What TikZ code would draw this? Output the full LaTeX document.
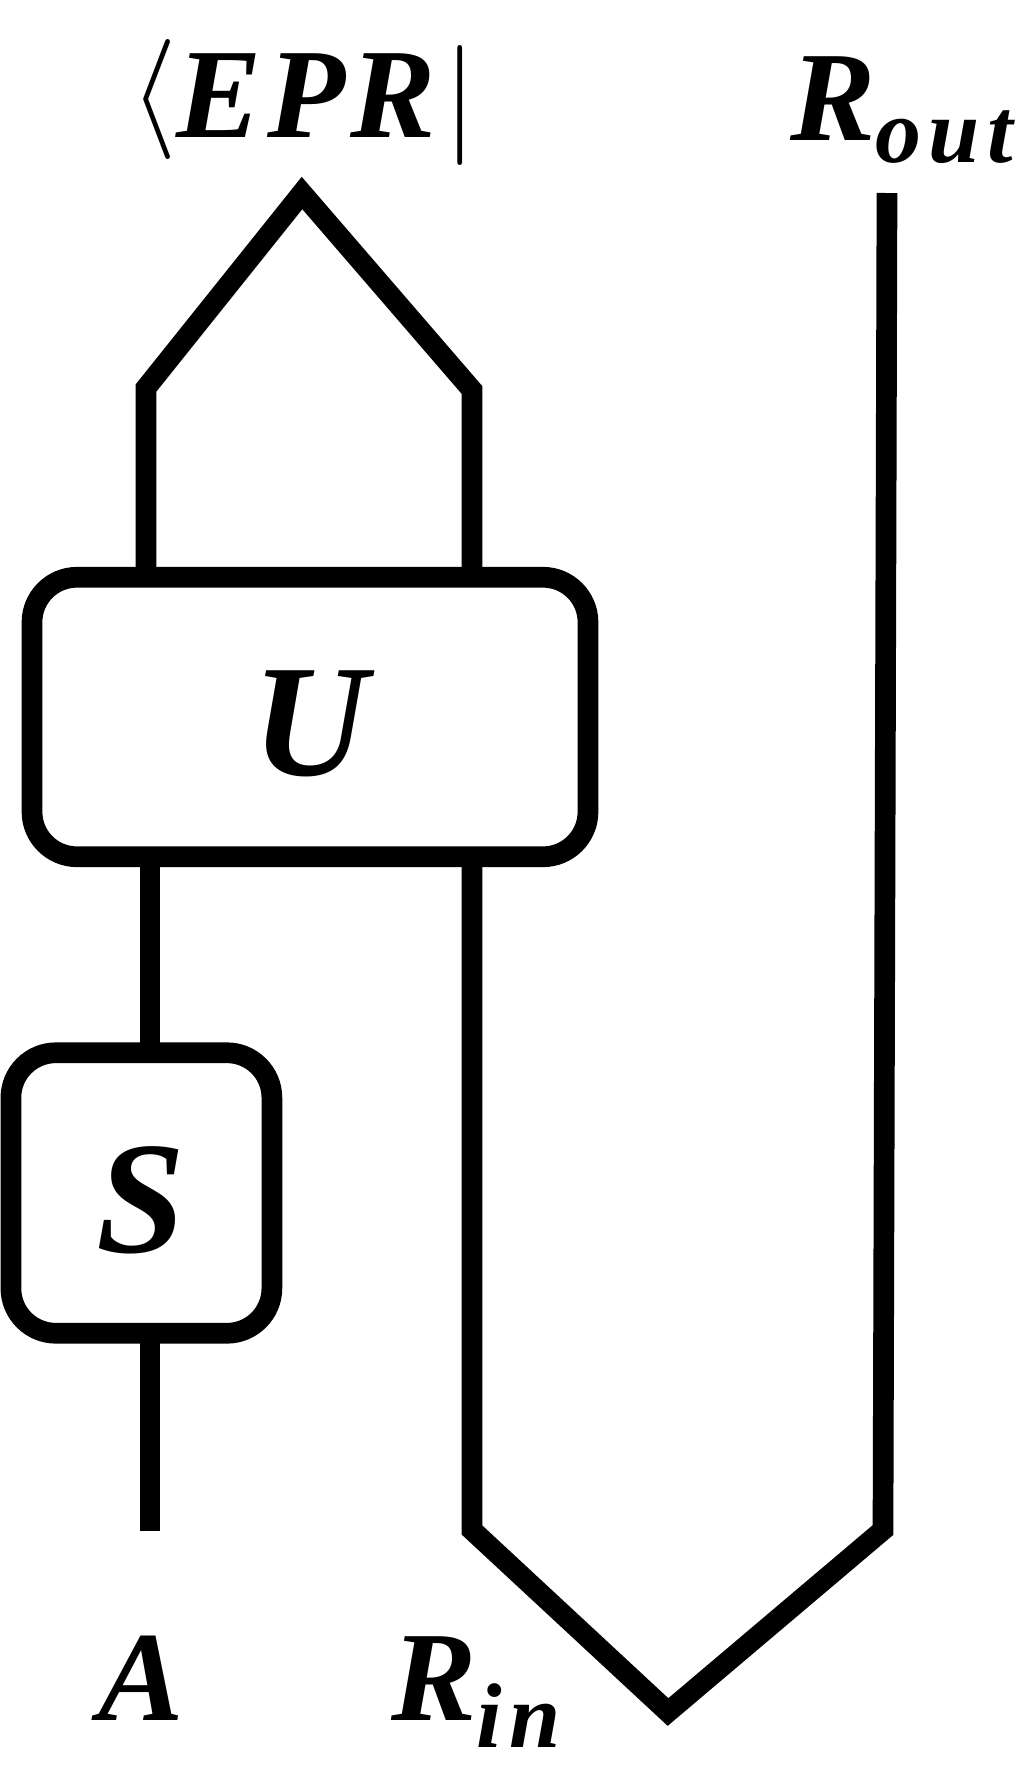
\RequirePackage{fix-cm}
\documentclass[tikz,border=0pt]{standalone}
\usepackage{fontspec}
\setmainfont{Liberation Serif}
\newcommand{\lowsub}[2]{\raisebox{-#1}{\fontsize{92}{92}\selectfont\addfontfeature{LetterSpace=8}#2}}
\newcommand{\gatelabel}[1]{\raisebox{-7pt}[\height][\depth]{#1}}
\tikzset{
	gate/.style={draw, line width=20.7pt, rounded corners=45pt, inner sep=0pt, outer sep=0pt, font=\fontsize{160}{160}\selectfont\bfseries\itshape},
	wire/.style={line width=20.7pt},
	lbl/.style={inner sep=0pt, anchor=base west, font=\fontsize{128}{128}\selectfont\bfseries\itshape}
}
\begin{document}
\begin{tikzpicture}[x=1pt, y=-1pt]
	\useasboundingbox (0,0) rectangle (1028,1773);
	% boxes
	\node[gate, minimum width=556pt, minimum height=279.5pt] (U) at (310,717) {\gatelabel{U}};
	\node[gate, minimum width=261pt, minimum height=280.5pt] (S) at (141.4,1193) {\gatelabel{S}};
	% labels
	\node[lbl] (epr) at (130,137) {\raisebox{8pt}{\fontsize{120}{120}\selectfont$\langle$}{\addfontfeature{LetterSpace=4}EPR}\kern7pt\raisebox{2pt}{\fontsize{120}{120}\selectfont$|$}};
	\node[lbl] (Rout) at (790,140) {R\lowsub{22pt}{out}};
	\node[lbl] (A) at (98,1720) {A};
	\node[lbl] (Rin) at (391,1720) {R\lowsub{27pt}{in}};
	% wire ends
	\coordinate (capL) at (146,388);
	\coordinate (cap) at (302,193);
	\coordinate (capR) at (472,390);
	\coordinate (a) at (150,1531);
	\coordinate (rin) at (472,1530);
	\coordinate (cup) at (668,1712);
	\coordinate (rout) at (883,1530);
	\coordinate (routtop) at (887,193);
	% wires
	\draw[wire] (capL |- U.north) -- (capL) -- (cap) -- (capR) -- (capR |- U.north);
	\draw[wire] (U.south -| a) -- (S.north -| a);
	\draw[wire] (S.south -| a) -- (a);
	\draw[wire] (U.south -| rin) -- (rin) -- (cup) -- (rout) -- (routtop);
\end{tikzpicture}
\end{document}
